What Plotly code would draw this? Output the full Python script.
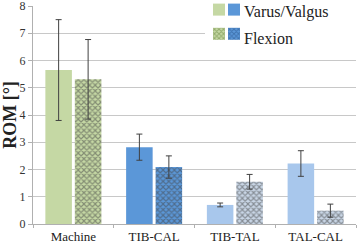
import plotly.graph_objects as go

categories = ["Machine", "TIB-CAL", "TIB-TAL", "TAL-CAL"]
varus_values = [5.65, 2.82, 0.70, 2.22]
varus_errors = [1.85, 0.48, 0.07, 0.47]
flexion_values = [5.31, 2.09, 1.55, 0.49]
flexion_errors = [1.46, 0.41, 0.27, 0.24]
y_ticks = [0, 1, 2, 3, 4, 5, 6, 7, 8]

varus_colors = ["#c5d8a4", "#5b97d8", "#a8c7ec", "#a8c7ec"]
flex_bg = ["#c5d8a4", "#5b97d8", "#c9d6e6", "#c9d6e6"]
flex_fg = ["#5f7d34", "#244f86", "#6d819c", "#6d819c"]

FONT = "Liberation Serif"
W, H = 358, 244
L, R, T, B = 33, 2, 6, 20
pw, ph = W - L - R, H - T - B

def px(x):
    return (x - L) / pw

def py(y):
    return (H - B - y) / ph

err_style = dict(type="data", visible=True, color="#404040", thickness=1, width=3)

fig = go.Figure()
fig.add_trace(go.Bar(
    x=categories, y=varus_values, name="Varus/Valgus", showlegend=False,
    marker=dict(color=varus_colors, line=dict(width=0)),
    error_y=dict(array=varus_errors, **err_style),
))
fig.add_trace(go.Bar(
    x=categories, y=flexion_values, name="Flexion", showlegend=False,
    marker=dict(color=flex_bg, line=dict(width=0),
                pattern=dict(shape="x", size=4, solidity=0.5,
                             fgcolor=flex_fg, fillmode="overlay")),
    error_y=dict(array=flexion_errors, **err_style),
))

# legend swatches (two per row: green, blue) on a hidden overlay axis
sw = [("legend", varus_colors[0], flex_bg[0], flex_fg[0]),
      ("legend2", varus_colors[1], flex_bg[1], flex_fg[1])]
for lg, c_solid, c_bg, c_fg in sw:
    fig.add_trace(go.Bar(x=[None], y=[None], name="", legend=lg, legendgroup=lg + "a",
                         xaxis="x2", yaxis="y2",
                         marker=dict(color=c_solid, line=dict(width=0))))
    fig.add_trace(go.Bar(x=[None], y=[None], name="", legend=lg, legendgroup=lg + "b",
                         xaxis="x2", yaxis="y2",
                         marker=dict(color=c_bg, line=dict(width=0),
                                     pattern=dict(shape="x", size=4, solidity=0.5,
                                                  fgcolor=c_fg, fillmode="overlay"))))

leg_common = dict(bgcolor="rgba(0,0,0,0)", borderwidth=0, tracegroupgap=3,
                  font=dict(family=FONT, size=14, color="#222"),
                  xanchor="left", yanchor="top", itemwidth=30)

fig.update_layout(
    width=W, height=H,
    margin=dict(l=L, r=R, t=T, b=B, pad=0, autoexpand=False),
    paper_bgcolor="white", plot_bgcolor="white",
    barmode="group", bargap=0.27, bargroupgap=0.1,
    font=dict(family=FONT, size=13, color="#333"),
    showlegend=True,
    legend=dict(x=px(199), y=py(-6), **leg_common),
    legend2=dict(x=px(214), y=py(-6), **leg_common),
    xaxis=dict(showgrid=False, showline=True, linecolor="#b0b0b0", linewidth=1,
               ticks="outside", tickson="boundaries", ticklen=3, tickcolor="#b0b0b0",
               ticklabeloverflow="allow",
               tickfont=dict(family=FONT, size=13, color="#222")),
    yaxis=dict(range=[0, 8.001], tickvals=y_ticks, showgrid=True, gridcolor="#c8c8c8",
               gridwidth=1, showline=True, linecolor="#b0b0b0", linewidth=1,
               ticks="outside", ticklen=4, tickcolor="#b0b0b0", zeroline=False,
               ticklabeloverflow="allow",
               tickfont=dict(family=FONT, size=12, color="#333"),
               title=dict(text="<b>ROM [°]</b>", standoff=5,
                          font=dict(family=FONT, size=18, color="#222"))),
    xaxis2=dict(overlaying="x", visible=False),
    yaxis2=dict(overlaying="y", visible=False),
    shapes=[dict(type="rect", xref="paper", yref="paper", layer="above",
                 x0=px(205), x1=1.01, y0=py(50), y1=1.05,
                 fillcolor="white", line=dict(width=0))],
    annotations=[
        dict(text="Varus/Valgus", xref="paper", yref="paper", x=px(242), y=py(12),
             xanchor="left", yanchor="middle", showarrow=False,
             font=dict(family=FONT, size=16, color="#222")),
        dict(text="Flexion", xref="paper", yref="paper", x=px(242), y=py(38),
             xanchor="left", yanchor="middle", showarrow=False,
             font=dict(family=FONT, size=16, color="#222")),
    ],
)

fig.write_html("out.html", config={"displayModeBar": False},
               post_script="document.body.style.margin='0';document.body.style.overflow='hidden';")
